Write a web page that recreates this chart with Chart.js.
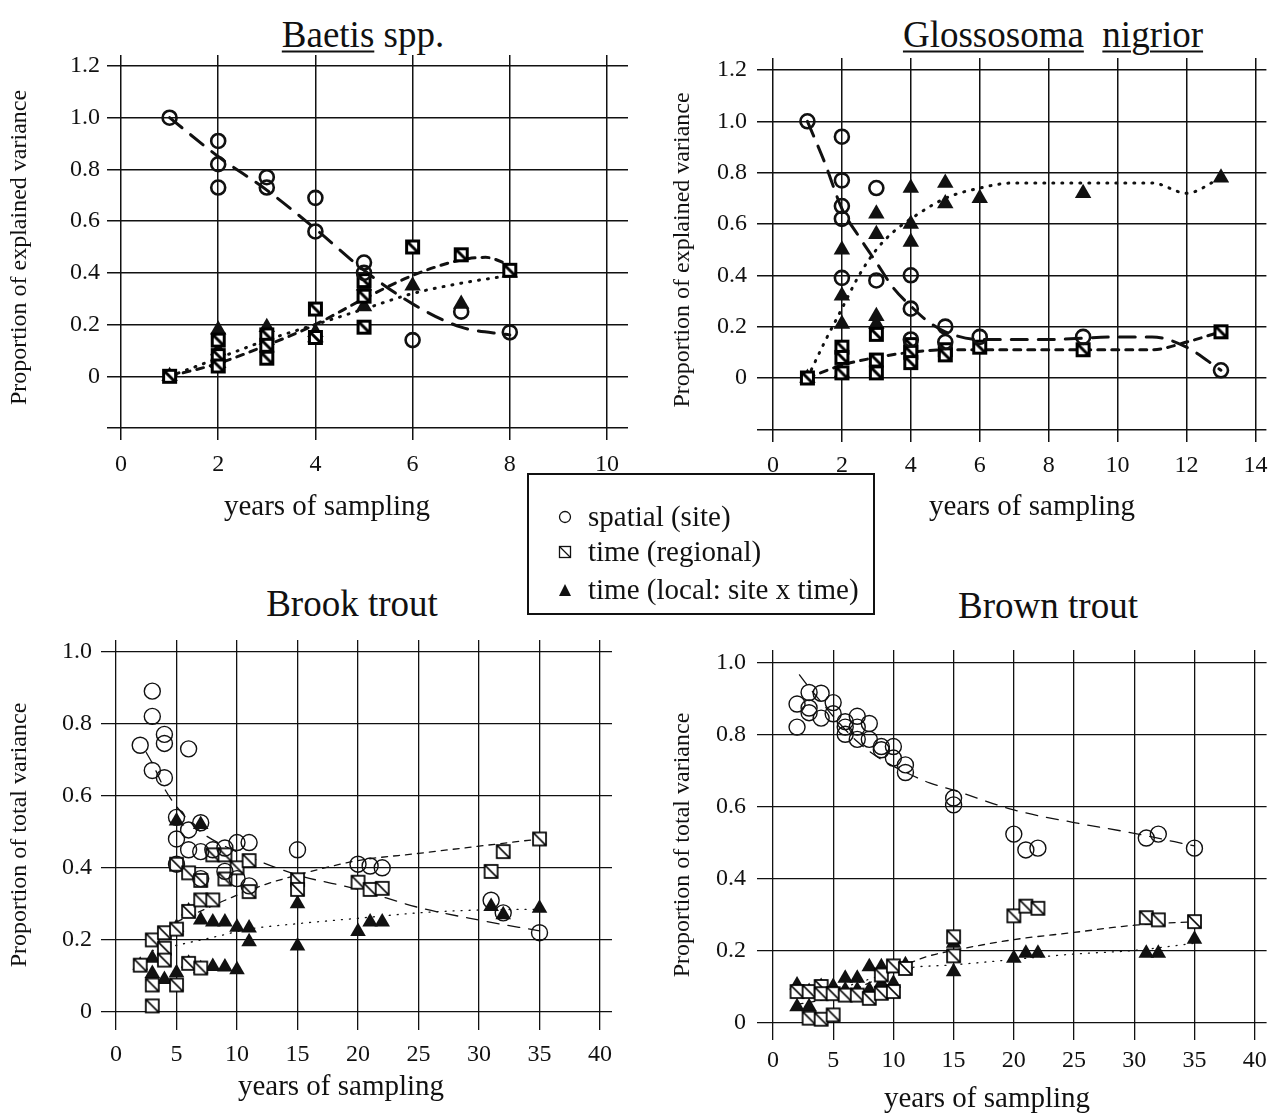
<!DOCTYPE html>
<html>
<head>
<meta charset="utf-8">
<script src="https://cdn.jsdelivr.net/npm/chart.js@4.4.0/dist/chart.umd.min.js"></script>
<style>
  body { margin:0; background:#fff; width:1276px; height:1113px; position:relative; overflow:hidden;
         font-family:"Liberation Serif", serif; color:#111; }
  canvas { position:absolute; }
  .title { position:absolute; font-size:37px; line-height:1; white-space:nowrap; transform:translate(-50%,-50%); }
  .title u { text-decoration-thickness:2px; text-underline-offset:4px; }
  .xlab { position:absolute; font-size:29px; line-height:1; white-space:nowrap; transform:translate(-50%,-50%); }
  #legend { position:absolute; left:527px; top:473px; width:344px; height:138px; border:2px solid #111; font-size:29px; }
  .row { position:absolute; left:0; height:34px; line-height:34px; white-space:nowrap; }
  .row svg { position:absolute; left:29px; top:11px; }
  .row span { position:absolute; left:59px; }
</style>
</head>
<body>
<div class="title" style="left:363px;top:34px"><u>Baetis</u> spp.</div>
<div class="title" style="left:1053px;top:34px"><u>Glossosoma</u>&nbsp;&nbsp;<u>nigrior</u></div>
<div class="title" style="left:352px;top:603px">Brook trout</div>
<div class="title" style="left:1048px;top:605px">Brown trout</div>

<canvas id="baetis" width="640" height="490" style="left:0;top:45px"></canvas>
<canvas id="gloss" width="616" height="490" style="left:660px;top:45px"></canvas>
<canvas id="brook" width="640" height="483" style="left:0;top:630px"></canvas>
<canvas id="brown" width="616" height="473" style="left:660px;top:640px"></canvas>

<div class="xlab" style="left:327px;top:505px">years of sampling</div>
<div class="xlab" style="left:1032px;top:505px">years of sampling</div>
<div class="xlab" style="left:341px;top:1085px">years of sampling</div>
<div class="xlab" style="left:987px;top:1097px">years of sampling</div>

<div id="legend">
  <div class="row" style="top:24px"><svg width="14" height="14"><circle cx="7" cy="7" r="5.5" fill="none" stroke="#111" stroke-width="1.3"/></svg><span>spatial (site)</span></div>
  <div class="row" style="top:59px"><svg width="14" height="14"><rect x="1.5" y="1.5" width="11" height="11" fill="#fff" stroke="#111" stroke-width="1.3"/><line x1="1.5" y1="1.5" x2="12.5" y2="12.5" stroke="#111" stroke-width="1.3"/></svg><span>time (regional)</span></div>
  <div class="row" style="top:97px"><svg width="14" height="14"><polygon points="7,1 13,13 1,13" fill="#111"/></svg><span>time (local: site x time)</span></div>
</div>

<script>
// Baetis spp.
const baetisSpatial = [[1,1.00],[2,0.91],[2,0.82],[2,0.73],[3,0.77],[3,0.73],[4,0.69],[4,0.56],[5,0.44],[5,0.40],[6,0.14],[7,0.25],[8,0.17]];
const baetisRegional = [[1,0],[2,0.14],[2,0.08],[2,0.04],[3,0.16],[3,0.12],[3,0.07],[4,0.26],[4,0.15],[5,0.37],[5,0.31],[5,0.19],[6,0.50],[7,0.47],[8,0.41]];
const baetisLocal = [[1,0],[2,0.18],[2,0.10],[2,0.05],[3,0.19],[3,0.14],[4,0.17],[4,0.15],[5,0.35],[5,0.27],[6,0.35],[7,0.28],[8,0.40]];
const baetisSpatialFit = [[1,1.0],[2,0.85],[3,0.72],[4,0.57],[5,0.41],[6,0.28],[7,0.19],[8,0.16]];
const baetisRegionalFit = [[1,0],[2,0.05],[3,0.12],[4,0.20],[5,0.30],[6,0.39],[7,0.45],[7.5,0.46],[8,0.43]];
const baetisLocalFit = [[1,0],[2,0.07],[3,0.14],[4,0.20],[5,0.26],[6,0.32],[7,0.36],[8,0.39]];

// Glossosoma nigrior
const glossSpatial = [[1,1.0],[2,0.94],[2,0.77],[2,0.67],[2,0.62],[2,0.39],[3,0.74],[3,0.38],[4,0.40],[4,0.27],[4,0.15],[5,0.20],[5,0.14],[6,0.16],[9,0.16],[13,0.03]];
const glossRegional = [[1,0],[2,0.12],[2,0.08],[2,0.02],[3,0.17],[3,0.07],[3,0.02],[4,0.13],[4,0.10],[4,0.06],[5,0.11],[5,0.09],[6,0.12],[9,0.11],[13,0.18]];
const glossLocal = [[1,0],[2,0.50],[2,0.32],[2,0.21],[2,0.02],[3,0.64],[3,0.56],[3,0.24],[3,0.21],[4,0.74],[4,0.60],[4,0.53],[5,0.76],[5,0.68],[6,0.70],[9,0.72],[13,0.78]];
const glossSpatialFit = [[1,1.0],[1.5,0.84],[2,0.66],[2.5,0.55],[3,0.45],[3.5,0.35],[4,0.28],[4.5,0.22],[5,0.18],[6,0.15],[8,0.15],[10,0.16],[11,0.16],[12,0.12],[13,0.03]];
const glossRegionalFit = [[1,0],[2,0.05],[3,0.08],[4,0.10],[5,0.11],[6,0.11],[9,0.11],[11,0.11],[12,0.14],[13,0.18]];
const glossLocalFit = [[1,0],[1.5,0.14],[2,0.27],[2.5,0.40],[3,0.50],[3.5,0.57],[4,0.62],[5,0.70],[6,0.74],[7,0.76],[9,0.76],[11,0.76],[12,0.72],[13,0.78]];

// Brook trout
const brookSpatial = [[2,0.74],[3,0.89],[3,0.82],[3,0.67],[4,0.77],[4,0.745],[4,0.65],[5,0.54],[5,0.48],[5,0.41],[6,0.73],[6,0.505],[6,0.45],[7,0.525],[7,0.445],[7,0.37],[8,0.45],[9,0.455],[9,0.39],[10,0.47],[10,0.37],[11,0.47],[11,0.35],[15,0.45],[20,0.41],[21,0.405],[22,0.40],[31,0.31],[32,0.275],[35,0.22]];
const brookRegional = [[2,0.13],[3,0.20],[3,0.075],[3,0.017],[4,0.22],[4,0.177],[4,0.144],[5,0.41],[5,0.23],[5,0.075],[6,0.386],[6,0.279],[6,0.135],[7,0.365],[7,0.311],[7,0.122],[8,0.436],[8,0.311],[9,0.436],[9,0.369],[10,0.40],[11,0.42],[11,0.334],[15,0.367],[15,0.34],[20,0.36],[21,0.34],[22,0.343],[31,0.39],[32,0.445],[35,0.48]];
const brookLocal = [[2,0.13],[3,0.149],[3,0.107],[4,0.09],[5,0.53],[5,0.235],[5,0.109],[6,0.28],[6,0.135],[7,0.52],[7,0.255],[7,0.12],[8,0.25],[8,0.126],[9,0.25],[9,0.125],[10,0.235],[10,0.117],[11,0.233],[11,0.195],[15,0.30],[15,0.183],[20,0.223],[21,0.25],[22,0.25],[31,0.293],[32,0.27],[35,0.288]];
const brookSpatialFit = [[2.5,0.72],[3,0.69],[4,0.62],[5,0.57],[7,0.50],[9,0.46],[11,0.43],[15,0.38],[20,0.34],[25,0.29],[30,0.255],[35,0.225]];
const brookRegionalFit = [[5,0.25],[7,0.28],[9,0.31],[12,0.35],[15,0.38],[20,0.42],[25,0.44],[30,0.46],[35,0.48]];
const brookLocalFit = [[3,0.17],[5,0.185],[7,0.20],[9,0.215],[11,0.23],[15,0.245],[20,0.26],[25,0.275],[30,0.283],[35,0.285]];

// Brown trout
const brownSpatial = [[2,0.82],[2,0.884],[3,0.916],[3,0.873],[3,0.86],[4,0.914],[4,0.845],[5,0.888],[5,0.857],[6,0.835],[6,0.82],[6,0.80],[7,0.85],[7,0.82],[7,0.786],[8,0.83],[8,0.786],[9,0.766],[9,0.757],[10,0.766],[10,0.734],[11,0.715],[11,0.694],[15,0.623],[15,0.604],[20,0.523],[21,0.479],[22,0.484],[31,0.512],[32,0.523],[35,0.484]];
const brownRegional = [[2,0.086],[3,0.086],[3,0.012],[4,0.10],[4,0.08],[4,0.009],[5,0.08],[5,0.021],[6,0.076],[7,0.076],[8,0.067],[9,0.132],[9,0.081],[10,0.157],[10,0.086],[11,0.15],[15,0.238],[15,0.185],[20,0.296],[21,0.323],[22,0.317],[31,0.291],[32,0.285],[35,0.28]];
const brownLocal = [[2,0.104],[2,0.044],[3,0.086],[3,0.044],[4,0.10],[5,0.10],[6,0.123],[6,0.09],[7,0.123],[7,0.09],[8,0.155],[8,0.09],[9,0.155],[9,0.109],[10,0.15],[10,0.109],[11,0.16],[15,0.22],[15,0.141],[20,0.178],[21,0.192],[22,0.192],[31,0.192],[32,0.192],[35,0.231]];
const brownSpatialFit = [[2.2,0.965],[3,0.93],[4,0.89],[5,0.85],[7,0.78],[9,0.73],[11,0.695],[13,0.665],[15,0.645],[20,0.59],[25,0.555],[30,0.525],[35,0.49]];
const brownRegionalFit = [[2,0.05],[5,0.07],[8,0.11],[11,0.16],[13,0.185],[15,0.20],[20,0.23],[25,0.25],[30,0.27],[35,0.28]];
const brownLocalFit = [[2,0.07],[5,0.09],[8,0.12],[11,0.15],[15,0.16],[20,0.175],[25,0.19],[30,0.20],[35,0.22]];

// tick values
const explainedTicks = [-0.2, 0, 0.2, 0.4, 0.6, 0.8, 1.0, 1.2];
const totalTicks = [0, 0.2, 0.4, 0.6, 0.8, 1.0];
const baetisYears = [0, 2, 4, 6, 8, 10];
const glossYears = [0, 2, 4, 6, 8, 10, 12, 14];
const troutYears = [0, 5, 10, 15, 20, 25, 30, 35, 40];

const INK = '#111';
const FONT = '"Liberation Serif", serif';

function squareMarker(size, lw) {
  const c = document.createElement('canvas');
  c.width = c.height = Math.ceil(size + lw + 2);
  const g = c.getContext('2d');
  const o = (c.width - size) / 2;
  g.fillStyle = '#fff';
  g.fillRect(o, o, size, size);
  g.strokeStyle = '#000';
  g.lineWidth = lw;
  g.strokeRect(o, o, size, size);
  g.beginPath(); g.moveTo(o, o); g.lineTo(o + size, o + size); g.stroke();
  return c;
}

const pts = a => a.map(p => ({ x: p[0], y: p[1] }));

function panel(id, o) {
  const bold = o.bold;
  const lw = bold ? 3 : 1.3;
  const fit = (data, dash) => ({
    data: pts(data), showLine: true, pointRadius: 0, borderColor: INK, borderWidth: lw,
    borderDash: dash, borderCapStyle: 'round', tension: 0.4, cubicInterpolationMode: 'monotone'
  });
  new Chart(document.getElementById(id), {
    type: 'scatter',
    data: {
      datasets: [
        { data: pts(o.spatial), pointStyle: 'circle', pointRadius: bold ? 7 : 8, backgroundColor: 'rgba(0,0,0,0)',
          borderColor: INK, borderWidth: bold ? 2.6 : 1.4 },
        { data: pts(o.regional), pointStyle: squareMarker(bold ? 12 : 13, bold ? 3 : 1.7) },
        { data: pts(o.local), pointStyle: 'triangle', pointRadius: bold ? 9.5 : 9, backgroundColor: INK, borderColor: INK, borderWidth: 0 },
        fit(o.spatialFit, bold ? [16, 11] : [12, 9]),
        fit(o.regionalFit, bold ? [7, 7] : [6, 6]),
        fit(o.localFit, bold ? [1, 8] : [1, 7])
      ]
    },
    options: {
      animation: false, responsive: false, events: [],
      plugins: { legend: { display: false }, tooltip: { enabled: false } },
      layout: { padding: { top: o.padTop, right: o.padRight, left: 0, bottom: 0 } },
      scales: {
        x: {
          type: 'linear', min: o.xMin, max: o.xMax,
          afterBuildTicks: s => { s.ticks = o.xTicks.map(v => ({ value: v })); },
          afterFit: s => { s.height = o.xH; s.paddingLeft = 0; s.paddingRight = 0; },
          grid: { color: INK, lineWidth: bold ? 1.5 : 1.3, drawTicks: false },
          border: { display: false },
          ticks: { color: INK, font: { family: FONT, size: 24 }, padding: o.xTickPad, autoSkip: false, maxRotation: 0,
                   callback: v => String(v) }
        },
        y: {
          type: 'linear', min: o.yMin, max: o.yMax,
          afterBuildTicks: s => { s.ticks = o.yTicks.map(v => ({ value: v })); },
          afterFit: s => { s.width = o.yW; s.paddingTop = 0; s.paddingBottom = 0; },
          grid: { color: INK, lineWidth: bold ? 1.5 : 1.3, drawTicks: false },
          border: { display: false },
          ticks: { color: INK, font: { family: FONT, size: 24 }, padding: o.yTickPad, autoSkip: false,
                   callback: v => v < -0.01 ? '' : (Math.abs(v) < 1e-9 ? '0' : v.toFixed(1)) },
          title: { display: true, text: o.yTitle, color: INK,
                   font: { family: FONT, size: 24, lineHeight: 1 }, padding: { top: o.yTitlePad, bottom: 0 } }
        }
      }
    }
  });
}

panel('baetis', {
  bold: true, spatial: baetisSpatial, regional: baetisRegional, local: baetisLocal,
  spatialFit: baetisSpatialFit, regionalFit: baetisRegionalFit, localFit: baetisLocalFit,
  xTicks: baetisYears, yTicks: explainedTicks, xMin: -0.288, xMax: 10.432, yMin: -0.2464, yMax: 1.2425,
  padTop: 10, padRight: 12, yW: 107, xH: 95, xTickPad: 10, yTickPad: 7, yTitlePad: 8,
  yTitle: 'Proportion of explained variance'
});
panel('gloss', {
  bold: true, spatial: glossSpatial, regional: glossRegional, local: glossLocal,
  spatialFit: glossSpatialFit, regionalFit: glossRegionalFit, localFit: glossLocalFit,
  xTicks: glossYears, yTicks: explainedTicks, xMin: -0.463, xMax: 14.318, yMin: -0.2495, yMax: 1.2467,
  padTop: 13, padRight: 8, yW: 97, xH: 93, xTickPad: 9, yTickPad: 10, yTitlePad: 11,
  yTitle: 'Proportion of explained variance'
});
panel('brook', {
  bold: false, spatial: brookSpatial, regional: brookRegional, local: brookLocal,
  spatialFit: brookSpatialFit, regionalFit: brookRegionalFit, localFit: brookLocalFit,
  xTicks: troutYears, yTicks: totalTicks, xMin: -1.24, xMax: 40.99, yMin: -0.0499, yMax: 1.0319,
  padTop: 10, padRight: 28, yW: 101, xH: 83, xTickPad: 10, yTickPad: 9, yTitlePad: 8,
  yTitle: 'Proportion of total variance'
});
panel('brown', {
  bold: false, spatial: brownSpatial, regional: brownRegional, local: brownLocal,
  spatialFit: brownSpatialFit, regionalFit: brownRegionalFit, localFit: brownLocalFit,
  xTicks: troutYears, yTicks: totalTicks, xMin: -1.325, xMax: 40.99, yMin: -0.0486, yMax: 1.034,
  padTop: 10, padRight: 8, yW: 97, xH: 73, xTickPad: 6, yTickPad: 11, yTitlePad: 11,
  yTitle: 'Proportion of total variance'
});
</script>
</body>
</html>
